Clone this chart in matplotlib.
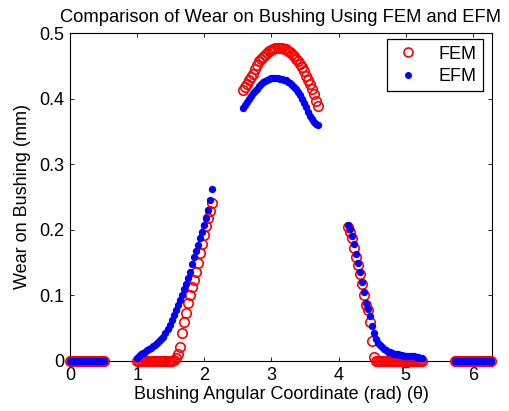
import numpy as np
import matplotlib
matplotlib.use("Agg")
import matplotlib.pyplot as plt

plt.rcParams['font.family'] = ['Liberation Sans', 'DejaVu Sans']

# ---------- data, in five angular segments ----------
theta_a = [0.00, 0.03, 0.06, 0.09, 0.12, 0.15, 0.18, 0.21, 0.24, 0.27, 0.30, 0.33, 0.36,
           0.39, 0.42, 0.45, 0.48, 0.51]
fem_a = [0.0, 0.0, 0.0, 0.0, 0.0, 0.0, 0.0, 0.0, 0.0, 0.0, 0.0, 0.0, 0.0, 0.0, 0.0, 0.0, 0.0, 0.0]
efm_a = [0.0, 0.0, 0.0, 0.0, 0.0, 0.0, 0.0, 0.0, 0.0, 0.0, 0.0, 0.0, 0.0, 0.0, 0.0, 0.0, 0.0, 0.0]

theta_b = [1.00, 1.03, 1.06, 1.09, 1.12, 1.15, 1.18, 1.21, 1.24, 1.27, 1.30, 1.33, 1.36,
           1.39, 1.42, 1.45, 1.48, 1.51, 1.54, 1.57, 1.60, 1.63, 1.66, 1.69, 1.72, 1.75,
           1.78, 1.81, 1.84, 1.87, 1.90, 1.93, 1.96, 1.99, 2.02, 2.05, 2.08, 2.11]
fem_b = [0.0, 0.0, 0.0, 0.0, 0.0, 0.0, 0.0, 0.0, 0.0, 0.0, 0.0, 0.0, 0.0, 0.0, 0.0, 0.0, 0.0, 0.0,
         0.001, 0.004, 0.010, 0.022, 0.042, 0.060, 0.073, 0.088, 0.101, 0.113, 0.123, 0.136,
         0.150, 0.164, 0.178, 0.192, 0.206, 0.218, 0.229, 0.241]
efm_b = [0.004, 0.007, 0.010, 0.012, 0.014, 0.016, 0.018, 0.020, 0.023, 0.025, 0.028, 0.031,
         0.034, 0.037, 0.042, 0.048, 0.055, 0.062, 0.070, 0.078, 0.086, 0.093, 0.100, 0.110,
         0.118, 0.126, 0.136, 0.148, 0.159, 0.168, 0.177, 0.187, 0.197, 0.208, 0.218, 0.230,
         0.245, 0.262]

theta_c = [2.58, 2.61, 2.64, 2.67, 2.70, 2.73, 2.76, 2.79, 2.82, 2.85, 2.88, 2.91, 2.94,
           2.97, 3.00, 3.03, 3.06, 3.09, 3.12, 3.15, 3.18, 3.21, 3.24, 3.27, 3.30, 3.33,
           3.36, 3.39, 3.42, 3.45, 3.48, 3.51, 3.54, 3.57, 3.60, 3.63, 3.66, 3.69]
fem_c = [0.413, 0.418, 0.423, 0.428, 0.433, 0.438, 0.445, 0.451, 0.457, 0.461, 0.464, 0.467,
         0.470, 0.472, 0.474, 0.476, 0.477, 0.477, 0.477, 0.477, 0.476, 0.475, 0.473, 0.471,
         0.468, 0.465, 0.461, 0.457, 0.452, 0.448, 0.442, 0.435, 0.429, 0.422, 0.415, 0.407,
         0.397, 0.389]
efm_c = [0.386, 0.390, 0.395, 0.400, 0.404, 0.408, 0.412, 0.415, 0.419, 0.422, 0.425, 0.427,
         0.428, 0.430, 0.431, 0.431, 0.431, 0.431, 0.430, 0.430, 0.429, 0.428, 0.426, 0.424,
         0.421, 0.417, 0.414, 0.410, 0.405, 0.400, 0.394, 0.387, 0.380, 0.374, 0.369, 0.365,
         0.362, 0.360]

theta_d = [4.14, 4.17, 4.20, 4.23, 4.26, 4.29, 4.32, 4.35, 4.38, 4.41, 4.44, 4.47, 4.50,
           4.53, 4.56, 4.59, 4.62, 4.65, 4.68, 4.71, 4.74, 4.77, 4.80, 4.83, 4.86, 4.89,
           4.92, 4.95, 4.98, 5.01, 5.04, 5.07, 5.10, 5.13, 5.16, 5.19, 5.22, 5.25]
fem_d = [0.205, 0.196, 0.188, 0.172, 0.158, 0.147, 0.133, 0.117, 0.101, 0.086, 0.078, 0.060,
         0.030, 0.006, 0.0, 0.0, 0.0, 0.0, 0.0, 0.0, 0.0, 0.0, 0.0, 0.0, 0.0, 0.0, 0.0, 0.0,
         0.0, 0.0, 0.0, 0.0, 0.0, 0.0, 0.0, 0.0, 0.0, 0.0]
efm_d = [0.207, 0.201, 0.190, 0.179, 0.163, 0.150, 0.136, 0.121, 0.105, 0.089, 0.079, 0.068,
         0.053, 0.042, 0.033, 0.028, 0.024, 0.021, 0.018, 0.016, 0.014, 0.013, 0.012, 0.011,
         0.010, 0.010, 0.009, 0.009, 0.008, 0.008, 0.008, 0.007, 0.007, 0.007, 0.006, 0.006,
         0.005, 0.005]

theta_e = [5.74, 5.77, 5.80, 5.83, 5.86, 5.89, 5.92, 5.95, 5.98, 6.01, 6.04, 6.07, 6.10,
           6.13, 6.16, 6.19, 6.22, 6.25, 6.28]
fem_e = [0.0, 0.0, 0.0, 0.0, 0.0, 0.0, 0.0, 0.0, 0.0, 0.0, 0.0, 0.0, 0.0, 0.0, 0.0, 0.0, 0.0,
         0.0, 0.0]
efm_e = [0.0, 0.0, 0.0, 0.0, 0.0, 0.0, 0.0, 0.0, 0.0, 0.0, 0.0, 0.0, 0.0, 0.0, 0.0, 0.0, 0.0,
         0.0, 0.0]

theta = np.concatenate([theta_a, theta_b, theta_c, theta_d, theta_e])
fem = np.concatenate([fem_a, fem_b, fem_c, fem_d, fem_e])
efm = np.concatenate([efm_a, efm_b, efm_c, efm_d, efm_e])

x_ticks = [0, 1, 2, 3, 4, 5, 6]
y_ticks = [0, 0.1, 0.2, 0.3, 0.4, 0.5]
y_ticklabels = ["0", "0.1", "0.2", "0.3", "0.4", "0.5"]

# ---------- plot ----------
fig = plt.figure(figsize=(5.09, 4.11), dpi=100)
ax = fig.add_axes([0.138, 0.1217, 0.828, 0.798])

ax.plot(theta, fem, linestyle="none", marker="o", ms=6.8, mfc="none", mec="#ff0000",
        mew=1.2, label="FEM", clip_on=False, zorder=3)
ax.plot(theta, efm, linestyle="none", marker="o", ms=5.3, mfc="#0000ff", mec="#0000ff",
        mew=0, label="EFM", clip_on=False, zorder=4)

ax.set_xlim(0, 2 * np.pi)
ax.set_ylim(0, 0.5)
ax.set_xticks(x_ticks)
ax.set_yticks(y_ticks)
ax.set_yticklabels(y_ticklabels)
ax.tick_params(direction="in", top=True, right=True, length=3, width=0.6,
               labelsize=13, pad=4)
for s in ax.spines.values():
    s.set_linewidth(0.8)

ax.set_title("Comparison of Wear on Bushing Using FEM and EFM", fontsize=13.2, pad=8)
ax.set_xlabel("Bushing Angular Coordinate (rad) (\u03b8)", fontsize=13, labelpad=2)
ax.set_ylabel("Wear on Bushing (mm)", fontsize=13, labelpad=6)

leg = ax.legend(loc="upper right", bbox_to_anchor=(0.979, 0.981), borderaxespad=0,
                fontsize=13, frameon=True, fancybox=False, framealpha=1,
                edgecolor="black", handlelength=1.6, handletextpad=0.9,
                borderpad=0.35, labelspacing=0.3, markerscale=0.95)
leg.get_frame().set_linewidth(0.9)

fig.savefig("out.png", dpi=100)
